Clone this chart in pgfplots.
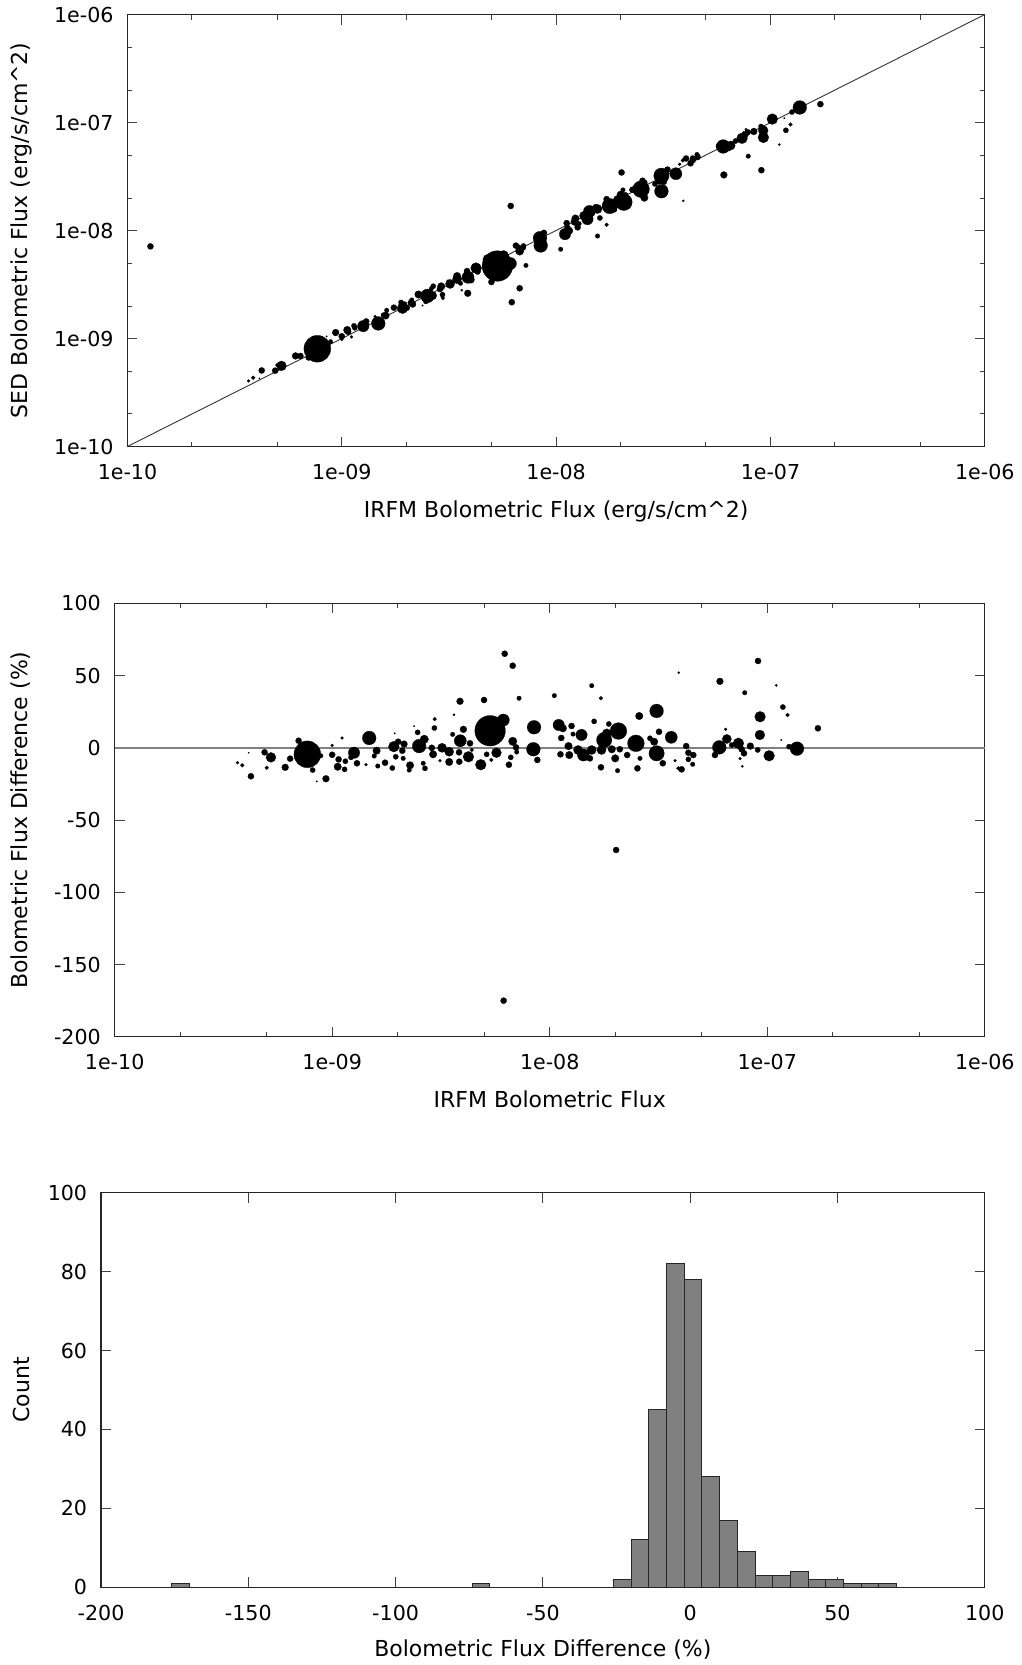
\documentclass[border=0pt]{standalone}
\usepackage{fontspec}
\setmainfont{DejaVu Sans}
\usepackage{pgfplots}
\pgfplotsset{compat=1.18}
\usepackage{pgfplotstable}

\pgfplotstableread{
x sed d m
3.67e-10 4.05e-10 -10.3 0.65
3.86e-10 4.33e-10 -12.1 0.85
4.13e-10 4.27e-10 -3.4 0.3
4.23e-10 5.06e-10 -19.7 1.35
4.89e-10 5.04e-10 -3.1 1.35
5.23e-10 5.58e-10 -6.6 2.15
5.00e-10 5.69e-10 -13.8 0.85
6.08e-10 6.90e-10 -13.5 1.5
6.41e-10 6.89e-10 -7.5 1.35
7.01e-10 6.67e-10 4.9 1.35
7.69e-10 8.04e-10 -4.5 5.85
8.86e-10 9.35e-10 -5.5 1.0
8.13e-10 9.38e-10 -15.4 1.15
8.49e-10 1.046e-9 -23.2 0.35
9.36e-10 1.136e-9 -21.4 1.5
1.00e-9 1.048e-9 -4.8 1.35
1.00e-9 9.83e-10 1.7 0.65
1.11e-9 1.034e-9 6.8 0.65
1.07e-9 1.156e-9 -8.0 1.35
1.06e-9 1.199e-9 -13.1 1.65
1.15e-9 1.257e-9 -9.3 1.15
1.14e-9 1.310e-9 -14.9 1.15
1.26e-9 1.303e-9 -3.4 2.5
1.30e-9 1.439e-9 -10.7 1.35
1.22e-9 1.301e-9 -6.6 1.15
1.48e-9 1.379e-9 6.8 3.0
1.43e-9 1.597e-9 -11.7 0.65
1.60e-9 1.632e-9 -2.0 1.65
1.62e-9 1.824e-9 -12.6 1.0
1.56e-9 1.649e-9 -5.7 1.0
1.75e-9 1.930e-9 -10.3 1.35
1.89e-9 2.155e-9 -14.0 1.15
1.92e-9 1.905e-9 0.8 2.35
1.96e-9 2.082e-9 -6.2 1.15
2.01e-9 1.926e-9 4.2 1.35
2.10e-9 2.142e-9 -2.0 1.35
2.14e-9 2.084e-9 2.6 1.5
2.12e-9 2.275e-9 -7.3 1.0
2.28e-9 2.556e-9 -12.1 1.65
2.26e-9 2.608e-9 -15.4 1.0
1.94e-9 1.746e-9 10.0 0.35
2.47e-9 2.206e-9 10.7 1.15
2.51e-9 2.480e-9 1.2 3.0
2.65e-9 2.494e-9 5.9 1.85
2.62e-9 2.900e-9 -10.7 1.0
2.67e-9 3.049e-9 -14.2 1.15
2.38e-9 2.023e-9 15.0 0.35
2.87e-9 2.870e-9 0.0 1.35
2.91e-9 3.041e-9 -4.5 1.65
2.95e-9 2.546e-9 13.7 1.15
2.96e-9 2.371e-9 19.9 0.85
3.20e-9 3.200e-9 0.0 2.0
3.13e-9 3.409e-9 -8.9 0.65
3.45e-9 3.788e-9 -9.8 1.65
3.45e-9 3.543e-9 -2.7 2.0
3.58e-9 3.247e-9 9.3 1.0
3.63e-9 2.799e-9 22.9 0.5
3.87e-9 2.624e-9 32.2 1.5
3.88e-9 3.690e-9 4.9 2.65
3.83e-9 3.949e-9 -3.1 1.35
3.84e-9 4.209e-9 -9.6 1.35
4.01e-9 3.497e-9 12.8 1.5
4.23e-9 4.492e-9 -6.2 2.35
4.30e-9 4.167e-9 3.1 1.35
4.38e-9 4.446e-9 -1.5 0.85
4.82e-9 5.384e-9 -11.7 2.35
4.99e-9 3.338e-9 33.1 1.35
5.13e-9 5.361e-9 -4.5 1.15
5.32e-9 4.692e-9 11.8 6.65
6.12e-9 4.945e-9 19.2 2.65
5.69e-9 5.883e-9 -3.4 2.15
5.39e-9 5.843e-9 -8.4 0.85
6.49e-9 7.249e-9 -11.7 1.35
6.62e-9 7.057e-9 -6.6 1.15
6.21e-9 2.167e-9 65.1 1.35
6.76e-9 2.920e-9 56.8 1.35
7.23e-9 4.750e-9 34.3 1.0
6.76e-9 6.456e-9 4.5 1.85
7.00e-9 6.979e-9 0.3 1.35
7.05e-9 7.254e-9 -2.9 1.0
8.47e-9 7.267e-9 14.2 3.0
8.41e-9 8.494e-9 -1.0 3.0
8.77e-9 9.507e-9 -8.4 1.35
1.05e-8 6.71e-9 36.1 1.0
1.10e-8 9.26e-9 15.8 2.5
1.15e-8 9.95e-9 13.5 1.65
1.13e-8 1.053e-8 6.8 1.35
1.22e-8 1.205e-8 1.2 1.65
1.26e-8 1.070e-8 15.1 1.35
1.28e-8 1.158e-8 9.5 1.0
1.12e-8 1.170e-8 -4.5 1.35
1.23e-8 1.292e-8 -5.0 1.65
1.40e-8 1.275e-8 8.9 2.5
1.35e-8 1.370e-8 -1.5 2.0
1.43e-8 1.502e-8 -5.0 2.65
1.56e-8 8.89e-9 43.0 1.0
1.72e-8 1.130e-8 34.3 0.85
1.60e-8 1.307e-8 18.3 1.15
1.56e-8 1.583e-8 -1.5 2.0
1.53e-8 1.642e-8 -7.3 1.35
1.72e-8 1.952e-8 -13.5 1.35
1.78e-8 1.684e-8 5.4 3.35
1.83e-8 1.647e-8 10.0 2.0
1.87e-8 1.561e-8 16.5 1.15
2.07e-8 1.830e-8 11.6 3.65
1.73e-8 1.756e-8 -1.5 2.0
1.93e-8 1.949e-8 -1.0 1.65
2.00e-8 2.146e-8 -7.3 1.65
2.05e-8 2.374e-8 -15.8 1.0
2.10e-8 2.121e-8 -1.0 1.35
2.27e-8 2.384e-8 -5.0 1.35
2.49e-8 2.413e-8 3.1 3.65
2.58e-8 2.012e-8 22.0 1.65
2.53e-8 2.889e-8 -14.2 1.35
2.60e-8 2.790e-8 -7.3 1.0
3.10e-8 2.310e-8 25.5 3.0
3.18e-8 2.827e-8 11.1 1.35
3.02e-8 2.893e-8 4.2 1.65
3.10e-8 3.218e-8 -3.8 3.35
2.89e-8 2.699e-8 6.6 1.15
3.31e-8 3.664e-8 -10.7 1.35
3.62e-8 3.356e-8 7.3 2.65
3.77e-8 4.106e-8 -8.9 0.65
3.92e-8 1.882e-8 52.0 0.5
3.90e-8 4.454e-8 -14.2 0.85
4.24e-8 4.189e-8 1.2 1.35
4.34e-8 4.488e-8 -3.4 1.35
4.57e-8 4.799e-8 -5.0 1.35
4.34e-8 4.687e-8 -8.0 1.15
4.54e-8 5.058e-8 -11.4 1.0
4.04e-8 4.642e-8 -14.9 1.35
5.75e-8 6.038e-8 -5.0 1.35
6.02e-8 6.002e-8 0.3 3.0
6.06e-8 3.272e-8 46.0 1.5
6.44e-8 5.616e-8 12.8 0.65
6.52e-8 6.122e-8 6.1 2.0
6.87e-8 6.739e-8 1.9 1.15
7.37e-8 7.142e-8 3.1 2.35
7.63e-8 7.706e-8 -1.0 1.35
7.82e-8 8.117e-8 -3.8 1.35
7.50e-8 8.063e-8 -7.5 0.65
7.68e-8 8.663e-8 -12.8 0.5
7.88e-8 4.878e-8 38.1 1.0
8.36e-8 8.260e-8 1.2 1.5
9.07e-8 3.619e-8 60.1 1.35
9.27e-8 7.277e-8 21.5 2.35
9.25e-8 8.427e-8 8.9 2.15
9.04e-8 9.176e-8 -1.5 1.15
1.02e-7 1.076e-7 -5.5 2.35
1.10e-7 6.248e-8 43.2 0.5
1.18e-7 8.472e-8 28.2 1.15
1.24e-7 9.585e-8 22.7 0.85
1.16e-7 1.097e-7 5.4 0.35
1.26e-7 1.250e-7 0.8 1.15
1.37e-7 1.378e-7 -0.6 3.0
1.71e-7 1.479e-7 13.5 1.35
2.02e-8 3.448e-8 -70.7 1.35
6.14e-9 1.689e-8 -175.0 1.35
1.28e-10 7.13e-9 -5470 1.35
}\data

\newcommand\fsz{\fontsize{10.3}{12}\selectfont}
\newcommand\lsz{\fontsize{11}{13}\selectfont}

\pgfplotsset{
  myaxis/.style={
    scale only axis, anchor=north west,
    axis line style={line width=0.6pt, draw=black!85},
    every tick/.style={line width=0.5pt, draw=black!75},
    major tick length=5pt, minor tick length=2.5pt,
    tick align=inside,
    tick label style={font=\fsz, inner sep=0pt},
    label style={font=\lsz},
    xticklabel style={anchor=center, yshift=-12.75pt},
    yticklabel style={anchor=east, xshift=-6.75pt},
    /pgf/number format/assume math mode=true,
  },
  bubbles/.style={
    scatter, only marks, mark=*,
    point meta=explicit,
    scatter/@pre marker code/.code={%
      \pgfmathsetmacro\msz{\pgfplotspointmetatransformed/87}%
      \scope[mark size=\msz pt, fill=black, draw=black, line width=0.1pt]%
    },
    scatter/@post marker code/.code={\endscope},
  },
}

\begin{document}
\begin{tikzpicture}
\useasboundingbox (0,0) rectangle (511pt,-832.5pt);

% ---------- Plot 1 ----------
\begin{axis}[myaxis,
  at={(63.75pt,-7.25pt)}, width=428.65pt, height=216pt,
  xmode=log, ymode=log,
  xmin=1e-10, xmax=1e-6, ymin=1e-10, ymax=1e-6,
  point meta min=0, point meta max=10,
  xtick={1e-10,1e-9,1e-8,1e-7,1e-6},
  xticklabels={1e-10,1e-09,1e-08,1e-07,1e-06},
  ytick={1e-10,1e-9,1e-8,1e-7,1e-6},
  yticklabels={1e-10,1e-09,1e-08,1e-07,1e-06},
  minor xtick={2e-10,5e-10,2e-9,5e-9,2e-8,5e-8,2e-7,5e-7},
  minor ytick={2e-10,5e-10,2e-9,5e-9,2e-8,5e-8,2e-7,5e-7},
  xlabel={IRFM Bolometric Flux (erg/s/cm\textasciicircum 2)},
  ylabel={SED Bolometric Flux (erg/s/cm\textasciicircum 2)},
  xlabel style={at={(axis description cs:0.5,-0.1493)}, anchor=center},
  ylabel style={at={(axis description cs:-0.1242,0.5)}, anchor=center},
]
\addplot[black!80, line width=0.45pt] coordinates {(1e-10,1e-10) (1e-6,1e-6)};
\addplot[bubbles] table[x=x, y=sed, meta=m] {\data};
\end{axis}

% ---------- Plot 2 ----------
\begin{axis}[myaxis,
  at={(57.35pt,-301.7pt)}, width=435.05pt, height=216.75pt,
  xmode=log,
  xmin=1e-10, xmax=1e-6, ymin=-200, ymax=100,
  point meta min=0, point meta max=10,
  xtick={1e-10,1e-9,1e-8,1e-7,1e-6},
  xticklabels={1e-10,1e-09,1e-08,1e-07,1e-06},
  minor xtick={2e-10,5e-10,2e-9,5e-9,2e-8,5e-8,2e-7,5e-7},
  ytick={-200,-150,-100,-50,0,50,100},
  yticklabels={-200,-150,-100,-50,0,50,100},
  minor y tick num=0,
  xlabel={IRFM Bolometric Flux},
  ylabel={Bolometric Flux Difference (\%)},
  xlabel style={at={(axis description cs:0.5,-0.1446)}, anchor=center},
  ylabel style={at={(axis description cs:-0.1077,0.5)}, anchor=center},
]
\addplot[gray, line width=1pt] coordinates {(1e-10,0) (1e-6,0)};
\addplot[bubbles] table[x=x, y=d, meta=m] {\data};
\end{axis}

% ---------- Plot 3 ----------
\begin{axis}[myaxis,
  at={(50.5pt,-596.35pt)}, width=441.9pt, height=197.3pt,
  xmin=-200, xmax=100, ymin=0, ymax=100,
  xtick={-200,-150,-100,-50,0,50,100},
  xticklabels={-200,-150,-100,-50,0,50,100},
  ytick={0,20,40,60,80,100},
  yticklabels={0,20,40,60,80,100},
  minor tick num=0,
  xlabel={Bolometric Flux Difference (\%)},
  ylabel={Count},
  xlabel style={at={(axis description cs:0.5,-0.1589)}, anchor=center},
  ylabel style={at={(axis description cs:-0.0905,0.5)}, anchor=center},
]
\addplot[ybar, bar width=6, bar shift=0pt, fill=black!50, draw=black!85, line width=0.5pt]
coordinates {(-173,1) (-71,1) (-23,2) (-17,12) (-11,45) (-5,82) (1,78) (7,28)
(13,17) (19,9) (25,3) (31,3) (37,4) (43,2) (49,2) (55,1) (61,1) (67,1)};
\end{axis}
\end{tikzpicture}
\end{document}
